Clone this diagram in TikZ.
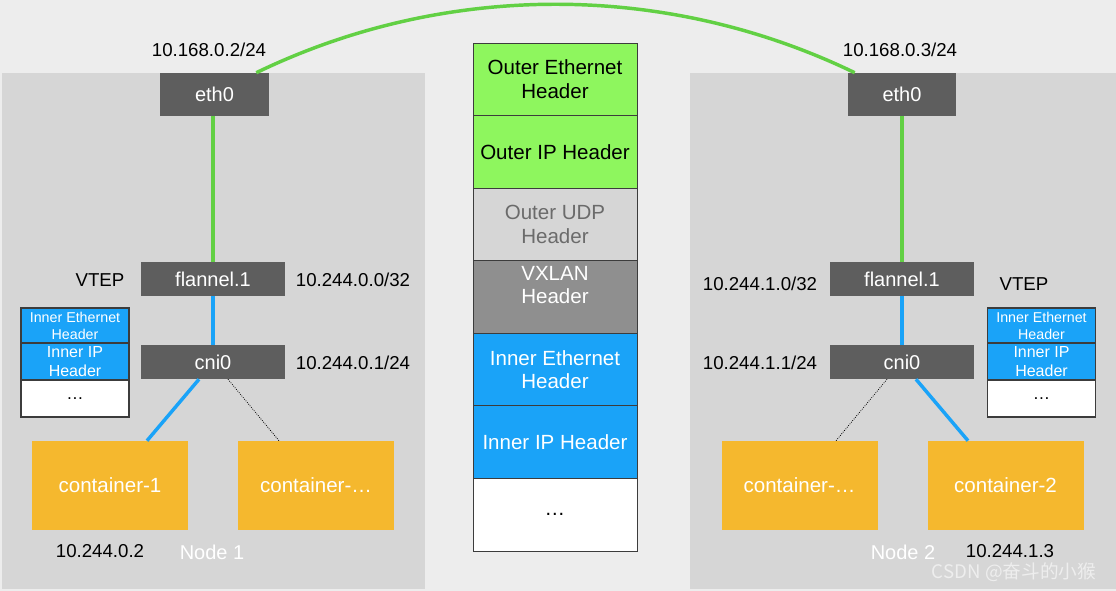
\documentclass[tikz,border=0pt]{standalone}
\usepackage{fontspec}
\setmainfont{Liberation Sans}
\newfontfamily\cjkfont{Noto Sans CJK SC}
\usetikzlibrary{calc}
\definecolor{bgc}{RGB}{237,237,237}
\definecolor{panelc}{RGB}{214,214,214}
\definecolor{ifc}{RGB}{94,94,94}
\definecolor{greenc}{RGB}{98,208,68}
\definecolor{bluec}{RGB}{26,163,248}
\definecolor{greenfill}{RGB}{142,246,94}
\definecolor{udpc}{RGB}{214,214,214}
\definecolor{udptext}{RGB}{107,107,107}
\definecolor{vxc}{RGB}{143,143,143}
\definecolor{ctrc}{RGB}{245,184,46}
\definecolor{rowline}{RGB}{60,60,60}
\definecolor{wmc}{RGB}{238,238,238}
\begin{document}
\begin{tikzpicture}[x=0.75pt,y=-0.75pt,
  box/.style={rectangle, inner sep=0pt, align=center},
  iface/.style={box, fill=ifc, text=white, font=\fontsize{15}{18}\selectfont},
  eth/.style={iface, minimum width=81.75pt, minimum height=32.25pt},
  dev/.style={iface, minimum width=108pt, minimum height=25.5pt},
  ctr/.style={box, fill=ctrc, text=white, minimum width=117pt, minimum height=66.75pt, font=\fontsize{15.4}{18}\selectfont},
  lbl/.style={font=\fontsize{14}{16}\selectfont, text=black, inner sep=0pt},
  nodelbl/.style={font=\fontsize{15}{18}\selectfont, text=white, inner sep=0pt},
  row/.style={box, draw=rowline, line width=0.6pt, minimum width=123pt, minimum height=54.43pt, font=\fontsize{15.4}{17.5}\selectfont},
  mini/.style={box, draw=rowline, line width=0.9pt, minimum width=81pt},
  miniA/.style={mini, fill=bluec, text=white, minimum height=26.25pt, font=\fontsize{10.7}{12.75}\selectfont},
  miniB/.style={mini, fill=bluec, text=white, minimum height=27.75pt, font=\fontsize{12}{14}\selectfont},
  miniC/.style={mini, fill=white, text=black, minimum height=27.75pt, font=\fontsize{13}{15}\selectfont},
  greenline/.style={draw=greenc, line width=2.6pt},
  blueline/.style={draw=bluec, line width=2.6pt},
  dotline/.style={draw=black, line width=0.6pt, densely dotted}
]
\useasboundingbox (0,0) rectangle (1116,591);
\fill[bgc] (0,0) rectangle (1116,591);
\fill[panelc] (2,73) rectangle (425,589);
\fill[panelc] (690,73) rectangle (1116,589);

% ---------- Node 1 ----------
\node[eth] (eth0L) at (214.5,94.5) {eth0};
\node[dev] (flanL) at (213,279) {flannel.1};
\node[dev] (cniL) at (213,362) {cni0};
\node[ctr] (c1) at (110,485.5) {container-1};
\node[ctr] (cxL) at (316,485.5) {container-\dots};
\node[miniA] (mLa) at (75,325.5) {Inner Ethernet\\Header};
\node[miniB] (mLb) at (75,361.5) {Inner IP\\Header};
\node[miniC] (mLc) at (75,398.5) {\dots};
\node[lbl] (ipeL) at (209,50) {10.168.0.2/24};
\node[lbl] (vtepL) at (100,280) {VTEP};
\node[lbl] (ipfL) at (353,280) {10.244.0.0/32};
\node[lbl] (ipcL) at (353,363) {10.244.0.1/24};
\node[lbl] (ipc1) at (100,551) {10.244.0.2};
\node[nodelbl] (n1) at (212,552) {Node 1};

% ---------- Node 2 ----------
\node[eth, minimum width=81pt] (eth0R) at (902,94.5) {eth0};
\node[dev] (flanR) at (902,279) {flannel.1};
\node[dev] (cniR) at (902,362) {cni0};
\node[ctr] (cxR) at (799.5,485.5) {container-\dots};
\node[ctr] (c2) at (1005.5,485.5) {container-2};
\node[miniA] (mRa) at (1041.5,325.5) {Inner Ethernet\\Header};
\node[miniB] (mRb) at (1041.5,361.5) {Inner IP\\Header};
\node[miniC] (mRc) at (1041.5,398.5) {\dots};
\node[lbl] (ipeR) at (900,50) {10.168.0.3/24};
\node[lbl] (ipfR) at (760,284) {10.244.1.0/32};
\node[lbl] (vtepR) at (1024,284) {VTEP};
\node[lbl] (ipcR) at (760,363) {10.244.1.1/24};
\node[lbl] (ipc2) at (1010,551) {10.244.1.3};
\node[nodelbl] (n2) at (903,552) {Node 2};

% ---------- packet in the middle ----------
\node[row, fill=greenfill, text=black] (r1) at (555,79.3) {Outer Ethernet\\Header};
\node[row, fill=greenfill, text=black] (r2) at (555,151.9) {Outer IP Header};
\node[row, fill=udpc, text=udptext] (r3) at (555,224.4) {Outer UDP\\Header};
\node[row, fill=vxc, label={[text=white, align=center, font=\fontsize{15.4}{17.5}\selectfont, yshift=9pt]center:VXLAN\\Header}] (r4) at (555,297) {};
\node[row, fill=bluec, text=white] (r5) at (555,369.6) {Inner Ethernet\\Header};
\node[row, fill=bluec, text=white] (r6) at (555,442.1) {Inner IP Header};
\node[row, fill=white, text=black] (r7) at (555,514.7) {\dots};

% ---------- connectors ----------
\coordinate (gs) at ($(eth0L.north east)+(-13,0)$);
\coordinate (ge) at ($(eth0R.north west)+(7,0)$);
\draw[greenline] (gs) .. controls +(188.7,-91.3) and +(-188.7,-91.3) .. (ge);
\draw[greenline] (flanL.north |- eth0L.south) -- (flanL.north);
\draw[greenline] (eth0R.south) -- (eth0R.south |- flanR.north);
\draw[blueline] (flanL.south) -- (cniL.north);
\draw[blueline] (flanR.south) -- (cniR.north);
\draw[blueline] ($(cniL.south)+(-14,0)$) -- ($(c1.north)+(37,0)$);
\draw[dotline] ($(cniL.south)+(15,0)$) -- ($(cxL.north)+(-37,0)$);
\draw[dotline] ($(cniR.south)+(-15,0)$) -- ($(cxR.north)+(36.5,0)$);
\draw[blueline] ($(cniR.south)+(14,0)$) -- ($(c2.north)+(-37.5,0)$);

\node[font=\cjkfont\fontsize{14}{16}\selectfont, text=wmc, inner sep=0pt] (wm) at (1014,572) {CSDN @奋斗的小猴};
\end{tikzpicture}
\end{document}
